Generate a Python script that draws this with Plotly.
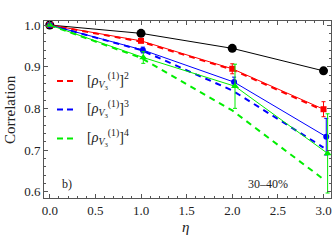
import plotly.graph_objects as go

# ---- data ----
eta = [0.0, 1.0, 2.0, 3.0]
eta_blue = [0.0, 1.02, 2.02, 3.03]
eta_green = [0.0, 1.025, 2.03, 3.045]

corr_black = [1.0, 0.980, 0.944, 0.890]
corr_red = [1.0, 0.962, 0.895, 0.798]
err_red = [0.0, 0.004, 0.012, 0.018]
corr_blue = [1.0, 0.940, 0.863, 0.732]
err_blue = [0.0, 0.007, 0.012, 0.044]
corr_green = [1.0, 0.922, 0.853, 0.692]
err_green = [0.0, 0.014, 0.053, 0.095]

pow2 = [1.0, 0.960, 0.893, 0.795]
pow3 = [1.0, 0.940, 0.843, 0.706]
pow4 = [1.0, 0.921, 0.795, 0.630]

legend_labels = [
    "[<i>ρ</i><sub><i>V</i><sub>3</sub></sub><sup>(1)</sup>]<sup>2</sup>",
    "[<i>ρ</i><sub><i>V</i><sub>3</sub></sub><sup>(1)</sup>]<sup>3</sup>",
    "[<i>ρ</i><sub><i>V</i><sub>3</sub></sub><sup>(1)</sup>]<sup>4</sup>",
]
RED, BLUE, GREEN = "#ff0000", "#0000ff", "#00ee00"
DASH = "6px,5px"

W, H = 334, 241
L, R, T, B = 44, 3, 21, 43
PW, PH = W - L - R, H - T - B


def px(x):
    return (x - L) / PW


def py(y):
    return (H - B - y) / PH


fig = go.Figure()

# dashed power curves
for ys, c in [(pow2, RED), (pow3, BLUE), (pow4, GREEN)]:
    fig.add_trace(go.Scatter(x=eta, y=ys, mode="lines",
                             line=dict(color=c, width=2, dash=DASH),
                             showlegend=False, hoverinfo="skip", cliponaxis=False))

# black reference
fig.add_trace(go.Scatter(x=eta, y=corr_black, mode="lines+markers",
                         line=dict(color="black", width=1),
                         marker=dict(symbol="circle", size=9, color="black"),
                         showlegend=False, cliponaxis=False))
# red
fig.add_trace(go.Scatter(x=eta, y=corr_red, mode="lines+markers",
                         line=dict(color=RED, width=1),
                         marker=dict(symbol="square", size=6, color=RED),
                         error_y=dict(type="data", array=err_red, color=RED, thickness=1, width=2),
                         showlegend=False, cliponaxis=False))
# blue
fig.add_trace(go.Scatter(x=eta_blue, y=corr_blue, mode="lines+markers",
                         line=dict(color=BLUE, width=1),
                         marker=dict(symbol="circle", size=6, color=BLUE),
                         error_y=dict(type="data", array=err_blue, color=BLUE, thickness=1, width=2),
                         showlegend=False, cliponaxis=False))
# green
fig.add_trace(go.Scatter(x=eta_green, y=corr_green, mode="lines+markers",
                         line=dict(color=GREEN, width=1),
                         marker=dict(symbol="triangle-up", size=7, color=GREEN),
                         error_y=dict(type="data", array=err_green, color=GREEN, thickness=1, width=2),
                         showlegend=False, cliponaxis=False))

FONT = "Liberation Serif"
axcommon = dict(showgrid=False, zeroline=False, showline=True, linecolor="#555",
                linewidth=1, mirror="allticks", ticks="inside", ticklen=4,
                tickcolor="#555", automargin=False,
                tickfont=dict(family=FONT, size=13, color="#222"))

fig.update_layout(
    width=W, height=H,
    margin=dict(l=L, r=R, t=T, b=B, pad=0, autoexpand=False),
    paper_bgcolor="white", plot_bgcolor="white",
    xaxis=dict(range=[-0.063, 3.082], tickvals=[0, 0.5, 1, 1.5, 2, 2.5, 3],
               ticktext=["0.0", "0.5", "1.0", "1.5", "2.0", "2.5", "3.0"],
               minor=dict(dtick=0.1, ticks="inside", ticklen=2, tickcolor="#555"),
               **axcommon),
    yaxis=dict(range=[0.585, 1.0096], tickvals=[0.6, 0.7, 0.8, 0.9, 1.0],
               ticktext=["0.6", "0.7", "0.8", "0.9", "1.0"],
               minor=dict(dtick=0.02, ticks="inside", ticklen=2, tickcolor="#555"),
               **axcommon),
    showlegend=False,
)

annots = []
shapes = []
legend_y = [81, 109.5, 138.5]
for lab, c, yy in zip(legend_labels, [RED, BLUE, GREEN], legend_y):
    shapes.append(dict(type="line", xref="paper", yref="paper",
                       x0=px(57), x1=px(77), y0=py(yy), y1=py(yy),
                       line=dict(color=c, width=2, dash="6px,4px")))
    annots.append(dict(xref="paper", yref="paper", x=px(85), y=py(yy - 1),
                       xanchor="left", yanchor="middle", showarrow=False,
                       text=lab, font=dict(family=FONT, size=14, color="#222")))

annots.append(dict(xref="paper", yref="paper", x=px(67), y=py(184),
                   xanchor="center", yanchor="middle", showarrow=False,
                   text="b)", font=dict(family=FONT, size=12, color="#222")))
annots.append(dict(xref="paper", yref="paper", x=px(268), y=py(184),
                   xanchor="center", yanchor="middle", showarrow=False,
                   text="30–40%", font=dict(family=FONT, size=12, color="#222")))
annots.append(dict(xref="paper", yref="paper", x=px(185), y=py(227),
                   xanchor="center", yanchor="middle", showarrow=False,
                   text="<i>η</i>", font=dict(family=FONT, size=15, color="#222")))
annots.append(dict(xref="paper", yref="paper", x=px(10), y=py(110),
                   xanchor="center", yanchor="middle", showarrow=False, textangle=-90,
                   text="Correlation", font=dict(family=FONT, size=15, color="#222")))

fig.update_layout(annotations=annots, shapes=shapes)
fig.write_html("out.html", config={"displayModeBar": False},
               post_script="document.body.style.margin='0';document.body.style.padding='0';")
